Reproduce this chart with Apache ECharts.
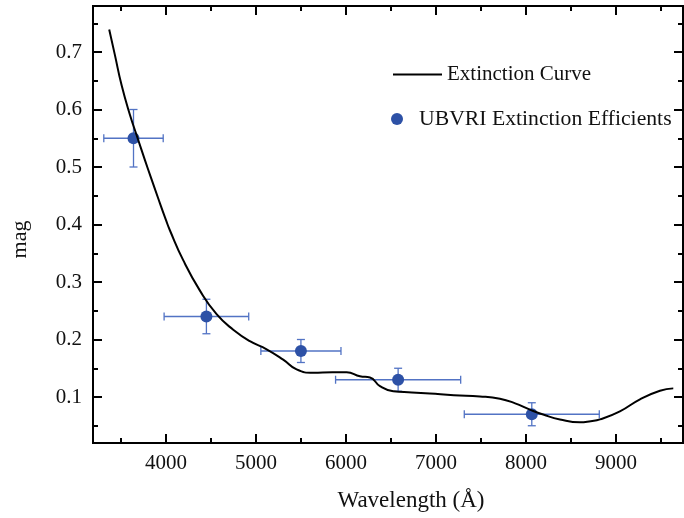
<!DOCTYPE html>
<html>
<head>
<meta charset="utf-8">
<script src="https://cdn.jsdelivr.net/npm/echarts@6/dist/echarts.min.js"></script>
<style>html,body{margin:0;padding:0;background:#fff}#c{width:684px;height:518px}</style>
</head>
<body>
<div id="c"></div>
<script>
// Extinction curve (wavelength in Å, mag)
var curveWave = [3370,3433,3508,3600,3686,3767,3833,3911,4000,4044,4192,4378,4563,4748,4933,5119,5303,5452,5637,5850,6008,6156,6267,6378,6526,6733,6933,7200,7489,7711,7880,8044,8200,8378,8600,8720,8822,9044,9267,9489,9637];
var curveMag  = [0.739,0.695,0.642,0.591,0.550,0.512,0.482,0.447,0.408,0.390,0.338,0.285,0.244,0.217,0.197,0.183,0.165,0.148,0.142,0.143,0.143,0.136,0.134,0.119,0.110,0.108,0.106,0.103,0.101,0.097,0.089,0.078,0.069,0.061,0.056,0.058,0.061,0.075,0.096,0.111,0.115];
// UBVRI points
var bandWave   = [3640,4450,5500,6580,8065];
var bandMag    = [0.55,0.24,0.18,0.13,0.07];
var bandWaveErr= [330,470,445,695,750];
var bandMagErr = [0.05,0.03,0.02,0.02,0.02];
// Tick values
var xMajorTicks = [4000,5000,6000,7000,8000,9000];
var xMinorTicks = [3500,4500,5500,6500,7500,8500,9500];
var yMajorTicks = [0.1,0.2,0.3,0.4,0.5,0.6,0.7];
var yMinorTicks = [0.05,0.15,0.25,0.35,0.45,0.55,0.65,0.75];

var XMIN = 3190, XMAX = 9745, YMIN = 0.02, YMAX = 0.78;
var FONT = 'Liberation Serif';

var curveData = curveWave.map(function(w,i){return [w, curveMag[i]];});
var pointData = bandWave.map(function(w,i){return [w, bandMag[i]];});
var errData = bandWave.map(function(w,i){return [w, bandMag[i], bandWaveErr[i], bandMagErr[i]];});

function xAxisDef(pos, ticks, len, showLabels, name){
  return {
    type:'value', position:pos, min:XMIN, max:XMAX,
    axisLine:{show:true, onZero:false, lineStyle:{color:'#000', width:2}},
    axisTick:{show:true, inside:true, length:len, customValues:ticks, lineStyle:{color:'#000', width:2}},
    axisLabel:{show:showLabels, customValues:ticks, margin:10, color:'#111', fontFamily:FONT, fontSize:21,
      formatter:function(v){return String(v);}},
    splitLine:{show:false},
    name:name||'', nameLocation:'middle', nameGap:46,
    nameTextStyle:{fontFamily:FONT, fontSize:23, color:'#111', padding:[0,0,0,46]}
  };
}
function yAxisDef(pos, ticks, len, showLabels, name){
  return {
    type:'value', position:pos, min:YMIN, max:YMAX,
    axisLine:{show:true, onZero:false, lineStyle:{color:'#000', width:2}},
    axisTick:{show:true, inside:true, length:len, customValues:ticks, lineStyle:{color:'#000', width:2}},
    axisLabel:{show:showLabels, customValues:ticks, margin:11, color:'#111', fontFamily:FONT, fontSize:21,
      formatter:function(v){return v.toFixed(1);}},
    splitLine:{show:false},
    name:name||'', nameLocation:'middle', nameGap:62,
    nameTextStyle:{fontFamily:FONT, fontSize:22, color:'#111', padding:[0,30,0,0]}
  };
}

var chart = echarts.init(document.getElementById('c'), null, {renderer:'canvas'});
chart.setOption({
  animation:false,
  backgroundColor:'#fff',
  grid:{left:93, right:1, top:6, bottom:75, containLabel:false},
  xAxis:[
    xAxisDef('bottom', xMajorTicks, 9, true, 'Wavelength (Å)'),
    xAxisDef('bottom', xMinorTicks, 5, false),
    xAxisDef('top', xMajorTicks, 9, false),
    xAxisDef('top', xMinorTicks, 5, false)
  ],
  yAxis:[
    yAxisDef('left', yMajorTicks, 9, true, 'mag'),
    yAxisDef('left', yMinorTicks, 5, false),
    yAxisDef('right', yMajorTicks, 9, false),
    yAxisDef('right', yMinorTicks, 5, false)
  ],
  legend:[
    {data:[{name:'Extinction Curve', icon:'rect'}], left:393, top:64, padding:0, itemWidth:49, itemHeight:2,
     textStyle:{fontFamily:FONT, fontSize:21, color:'#111'}},
    {data:[{name:'UBVRI Extinction Efficients', icon:'circle'}], left:391, top:108, padding:0, itemWidth:34, itemHeight:12,
     textStyle:{fontFamily:FONT, fontSize:21.7, color:'#111'}}
  ],
  series:[
    {
      type:'custom', name:'errors', xAxisIndex:0, yAxisIndex:0, z:2, silent:true,
      data:errData,
      renderItem:function(params, api){
        var x = api.value(0), y = api.value(1), xe = api.value(2), ye = api.value(3);
        var l = api.coord([x-xe, y]), r = api.coord([x+xe, y]);
        var t = api.coord([x, y+ye]), b = api.coord([x, y-ye]);
        var cap = 4;
        var st = {stroke:'#5273c4', lineWidth:1.3};
        return {type:'group', children:[
          {type:'line', shape:{x1:l[0], y1:l[1], x2:r[0], y2:r[1]}, style:st},
          {type:'line', shape:{x1:l[0], y1:l[1]-cap, x2:l[0], y2:l[1]+cap}, style:st},
          {type:'line', shape:{x1:r[0], y1:r[1]-cap, x2:r[0], y2:r[1]+cap}, style:st},
          {type:'line', shape:{x1:t[0], y1:t[1], x2:b[0], y2:b[1]}, style:st},
          {type:'line', shape:{x1:t[0]-cap, y1:t[1], x2:t[0]+cap, y2:t[1]}, style:st},
          {type:'line', shape:{x1:b[0]-cap, y1:b[1], x2:b[0]+cap, y2:b[1]}, style:st}
        ]};
      }
    },
    {
      type:'scatter', name:'UBVRI Extinction Efficients', xAxisIndex:0, yAxisIndex:0, z:3,
      data:pointData, symbol:'circle', symbolSize:12,
      itemStyle:{color:'#2d51a6', opacity:1}
    },
    {
      type:'line', name:'Extinction Curve', xAxisIndex:0, yAxisIndex:0, z:4,
      data:curveData, smooth:0.5, showSymbol:false, symbol:'none',
      lineStyle:{color:'#000', width:2}, itemStyle:{color:'#000'}
    }
  ]
});
</script>
</body>
</html>
